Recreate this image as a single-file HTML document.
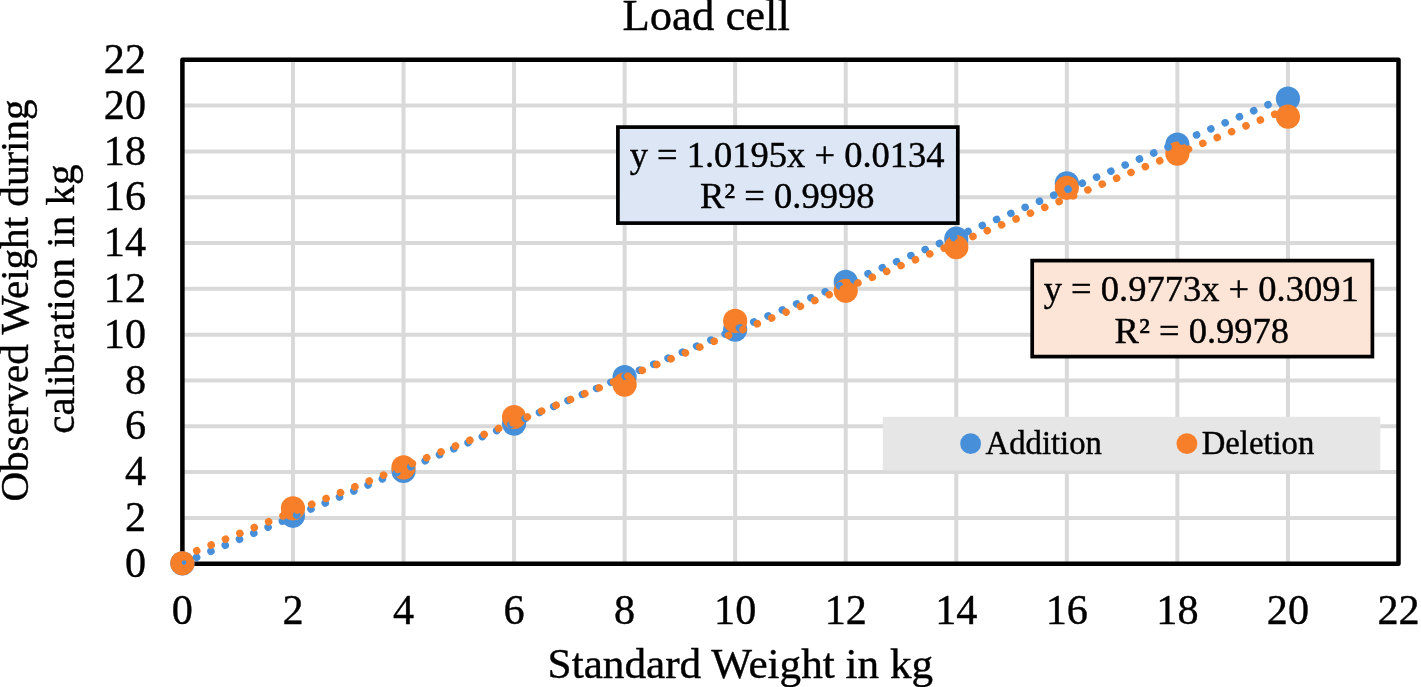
<!DOCTYPE html>
<html><head><meta charset="utf-8"><title>Load cell</title>
<style>
html,body{margin:0;padding:0;background:#fff;}
body{width:1421px;height:687px;overflow:hidden;position:relative;}
svg{position:absolute;left:0;top:0;display:block;}
text{font-family:"Liberation Serif","Times New Roman",serif;fill:#000;stroke:#000;stroke-width:0.4px;}
</style></head><body>
<svg width="1421" height="687" viewBox="0 0 1421 687">
<rect x="0" y="0" width="1421" height="687" fill="#fff"/>

<g stroke="#D9D9D9" stroke-width="4.00" fill="none">
<line x1="292.95" y1="59.75" x2="292.95" y2="563.70"/>
<line x1="403.51" y1="59.75" x2="403.51" y2="563.70"/>
<line x1="514.06" y1="59.75" x2="514.06" y2="563.70"/>
<line x1="624.62" y1="59.75" x2="624.62" y2="563.70"/>
<line x1="735.17" y1="59.75" x2="735.17" y2="563.70"/>
<line x1="845.73" y1="59.75" x2="845.73" y2="563.70"/>
<line x1="956.28" y1="59.75" x2="956.28" y2="563.70"/>
<line x1="1066.84" y1="59.75" x2="1066.84" y2="563.70"/>
<line x1="1177.39" y1="59.75" x2="1177.39" y2="563.70"/>
<line x1="1287.95" y1="59.75" x2="1287.95" y2="563.70"/>
<line x1="182.40" y1="105.56" x2="1398.50" y2="105.56"/>
<line x1="182.40" y1="151.38" x2="1398.50" y2="151.38"/>
<line x1="182.40" y1="197.19" x2="1398.50" y2="197.19"/>
<line x1="182.40" y1="243.00" x2="1398.50" y2="243.00"/>
<line x1="182.40" y1="288.82" x2="1398.50" y2="288.82"/>
<line x1="182.40" y1="334.63" x2="1398.50" y2="334.63"/>
<line x1="182.40" y1="380.45" x2="1398.50" y2="380.45"/>
<line x1="182.40" y1="426.26" x2="1398.50" y2="426.26"/>
<line x1="182.40" y1="472.07" x2="1398.50" y2="472.07"/>
<line x1="182.40" y1="517.89" x2="1398.50" y2="517.89"/>
</g>
<rect x="182.40" y="59.75" width="1216.10" height="503.95" fill="none" stroke="#000" stroke-width="4.50" stroke-linejoin="round"/>
<rect x="882.8" y="416.8" width="497.5" height="53.6" fill="#E7E6E6"/>
<circle cx="970.6" cy="443.7" r="10.4" fill="#4790D9"/>
<circle cx="1186.9" cy="443.7" r="10.4" fill="#F87F2A"/>
<text x="985.6" y="454" font-size="32.7">Addition</text>
<text x="1201.7" y="454" font-size="32.7">Deletion</text>
<g fill="#4790D9">
<circle cx="182.40" cy="563.40" r="12.1"/>
<circle cx="292.95" cy="515.80" r="12.1"/>
<circle cx="403.51" cy="470.90" r="12.1"/>
<circle cx="514.06" cy="423.60" r="12.1"/>
<circle cx="624.62" cy="377.00" r="12.1"/>
<circle cx="735.17" cy="329.60" r="12.1"/>
<circle cx="845.73" cy="281.90" r="12.1"/>
<circle cx="956.28" cy="238.70" r="12.1"/>
<circle cx="1066.84" cy="183.30" r="12.1"/>
<circle cx="1177.39" cy="144.60" r="12.1"/>
<circle cx="1287.95" cy="98.60" r="12.1"/>
</g>
<g fill="#F87F2A">
<circle cx="182.40" cy="563.30" r="12.1"/>
<circle cx="292.95" cy="508.30" r="12.1"/>
<circle cx="403.51" cy="467.40" r="12.1"/>
<circle cx="514.06" cy="417.00" r="12.1"/>
<circle cx="624.62" cy="384.60" r="12.1"/>
<circle cx="735.17" cy="320.90" r="12.1"/>
<circle cx="845.73" cy="290.80" r="12.1"/>
<circle cx="956.28" cy="247.20" r="12.1"/>
<circle cx="1066.84" cy="187.80" r="12.1"/>
<circle cx="1177.39" cy="153.60" r="12.1"/>
<circle cx="1287.95" cy="116.70" r="12.1"/>
</g>
<line x1="182.40" y1="563.39" x2="1287.95" y2="96.32" stroke="#4790D9" stroke-width="7.6" stroke-linecap="round" stroke-dasharray="0.01 15.497" stroke-dashoffset="0.02"/>
<circle cx="184.0" cy="562.6" r="2.3" fill="#4790D9"/>
<line x1="182.40" y1="556.62" x2="1287.95" y2="108.88" stroke="#F87F2A" stroke-width="7.6" stroke-linecap="round" stroke-dasharray="0.01 15.497"/>
<rect x="617.9" y="127.1" width="339.9" height="96.0" fill="#DCE6F5" stroke="#000" stroke-width="3.7"/>
<text x="787.1" y="167" font-size="36.5" text-anchor="middle">y = 1.0195x + 0.0134</text>
<text x="787.2" y="208.4" font-size="36.5" text-anchor="middle">R² = 0.9998</text>
<rect x="1032.2" y="260.6" width="340.2" height="96.0" fill="#FCE4D6" stroke="#000" stroke-width="3.7"/>
<text x="1201.2" y="301" font-size="36.5" text-anchor="middle">y = 0.9773x + 0.3091</text>
<text x="1201.8" y="343" font-size="36.5" text-anchor="middle">R² = 0.9978</text>
<text x="706.2" y="30.3" font-size="44.7" text-anchor="middle">Load cell</text>
<text x="146.0" y="72.95" font-size="42.2" text-anchor="end">22</text>
<text x="146.0" y="118.76" font-size="42.2" text-anchor="end">20</text>
<text x="146.0" y="164.58" font-size="42.2" text-anchor="end">18</text>
<text x="146.0" y="210.39" font-size="42.2" text-anchor="end">16</text>
<text x="146.0" y="256.20" font-size="42.2" text-anchor="end">14</text>
<text x="146.0" y="302.02" font-size="42.2" text-anchor="end">12</text>
<text x="146.0" y="347.83" font-size="42.2" text-anchor="end">10</text>
<text x="146.0" y="393.65" font-size="42.2" text-anchor="end">8</text>
<text x="146.0" y="439.46" font-size="42.2" text-anchor="end">6</text>
<text x="146.0" y="485.27" font-size="42.2" text-anchor="end">4</text>
<text x="146.0" y="531.09" font-size="42.2" text-anchor="end">2</text>
<text x="146.0" y="576.90" font-size="42.2" text-anchor="end">0</text>
<text x="182.40" y="624.2" font-size="42.2" text-anchor="middle">0</text>
<text x="292.95" y="624.2" font-size="42.2" text-anchor="middle">2</text>
<text x="403.51" y="624.2" font-size="42.2" text-anchor="middle">4</text>
<text x="514.06" y="624.2" font-size="42.2" text-anchor="middle">6</text>
<text x="624.62" y="624.2" font-size="42.2" text-anchor="middle">8</text>
<text x="735.17" y="624.2" font-size="42.2" text-anchor="middle">10</text>
<text x="845.73" y="624.2" font-size="42.2" text-anchor="middle">12</text>
<text x="956.28" y="624.2" font-size="42.2" text-anchor="middle">14</text>
<text x="1066.84" y="624.2" font-size="42.2" text-anchor="middle">16</text>
<text x="1177.39" y="624.2" font-size="42.2" text-anchor="middle">18</text>
<text x="1287.95" y="624.2" font-size="42.2" text-anchor="middle">20</text>
<text x="1398.50" y="624.2" font-size="42.2" text-anchor="middle">22</text>
<text x="740.4" y="678.2" font-size="43.2" text-anchor="middle">Standard Weight in kg</text>
<text transform="translate(28.0,300.5) rotate(-90)" font-size="41.1" text-anchor="middle">Observed Weight during</text>
<text transform="translate(73.8,299) rotate(-90)" font-size="41.1" text-anchor="middle">calibration in kg</text>
</svg></body></html>
